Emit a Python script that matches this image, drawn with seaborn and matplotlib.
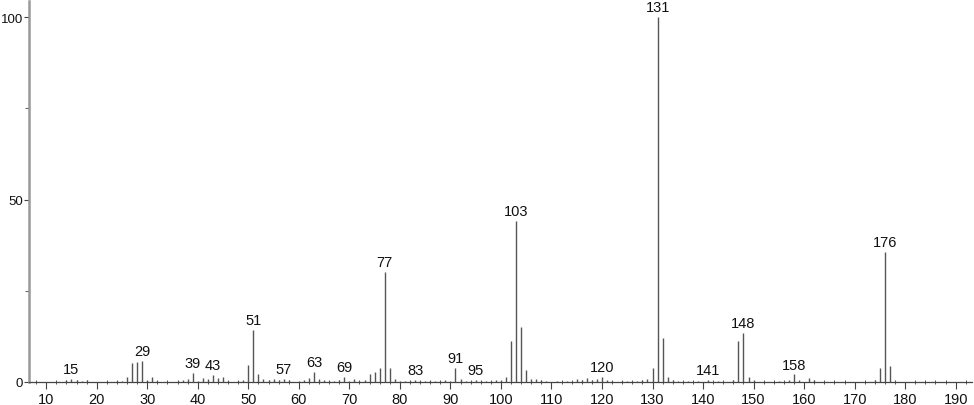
import numpy as np
import seaborn as sns
import matplotlib.pyplot as plt
from matplotlib.ticker import MultipleLocator

# ------------------------- spectrum data -------------------------
mz = [14, 15, 16, 17, 18, 24, 25, 26, 27, 28, 29, 30, 31, 32,
      36, 37, 38, 39, 40, 41, 42, 43, 44, 45, 46, 48, 49,
      50, 51, 52, 53, 54, 55, 56, 57, 58, 60, 61, 62, 63, 64, 65, 66, 67, 68, 69,
      70, 71, 72, 73, 74, 75, 76, 77, 78, 79, 80, 81, 82, 83, 84, 85, 86, 87, 88, 89,
      90, 91, 92, 93, 94, 95, 96, 97, 98, 99, 100, 101, 102, 103, 104, 105, 106, 107,
      108, 109, 111, 113, 115, 116, 117, 118, 119, 120, 121, 122, 124, 125, 126, 127,
      128, 129, 130, 131, 132, 133, 134, 135, 137, 139, 141, 143, 146, 147, 148, 149,
      150, 155, 157, 158, 159, 161, 162, 174, 175, 176, 177, 178]
intensity = [0.5, 0.9, 0.5, 0.4, 0.5, 0.2, 0.4, 1.4, 5.2, 5.5, 5.7, 0.5, 1.4, 0.3,
             0.3, 0.6, 0.7, 2.5, 0.4, 1.1, 0.7, 2.0, 1.2, 1.4, 0.4, 0.3, 0.5,
             4.7, 14.2, 2.3, 0.9, 0.5, 0.9, 0.5, 0.9, 0.5, 0.3, 0.5, 1.1, 2.7, 0.7, 0.5, 0.3, 0.3, 0.5, 1.4,
             0.3, 0.7, 0.3, 0.5, 2.1, 2.7, 3.8, 30.1, 3.8, 0.9, 0.3, 0.3, 0.4, 0.5, 0.3, 0.4, 0.4, 0.3, 0.4, 0.5,
             0.4, 3.8, 0.7, 0.4, 0.3, 0.5, 0.3, 0.4, 0.4, 0.5, 0.6, 1.4, 11.3, 44.2, 15.0, 3.3, 0.9, 0.9,
             0.5, 0.3, 0.3, 0.2, 0.9, 0.5, 1.1, 0.5, 0.7, 1.4, 0.5, 0.3, 0.2, 0.3, 0.3, 0.4,
             0.5, 0.9, 3.8, 100.0, 12.0, 1.4, 0.5, 0.3, 0.2, 0.2, 0.5, 0.3, 0.5, 11.2, 13.4, 1.4,
             0.5, 0.2, 0.5, 2.1, 0.5, 1.1, 0.5, 0.5, 3.8, 35.6, 4.4, 0.3]

# peaks that get a m/z label
labeled = [15, 29, 39, 43, 51, 57, 63, 69, 77, 83, 91, 95, 103, 120, 131, 141, 148, 158, 176]

x_ticks = list(range(10, 200, 10))
y_ticks = [0, 50, 100]

# ------------------------- plot -------------------------
sns.set_style('ticks')
plt.rcParams['font.family'] = ['Liberation Sans', 'DejaVu Sans']

fig = plt.figure(figsize=(9.74, 4.06), dpi=100)
ax = fig.add_axes([0.0298, 0.0567, 0.968, 0.938])

ax.vlines(mz, 0, intensity, colors='#555555', linewidth=1.0)

peaks = dict(zip(mz, intensity))
for m in labeled:
    ax.annotate(str(m), (m, peaks[m]), xytext=(0, 2), textcoords='offset points',
                ha='center', va='bottom', fontsize=10.5, color='#111111')

ax.set_xlim(6.6, 193.2)
ax.set_ylim(0, 104.4)
ax.set_xticks(x_ticks)
ax.set_yticks(y_ticks)
ax.xaxis.set_minor_locator(MultipleLocator(2))
ax.yaxis.set_minor_locator(MultipleLocator(25))

ax.tick_params(axis='x', which='major', length=5, width=0.8, color='#444444',
               labelsize=10.5, labelcolor='#111111', pad=2)
ax.tick_params(axis='y', which='major', length=3.5, width=0.8, color='#444444',
               labelsize=9.5, labelcolor='#111111', pad=1)
ax.tick_params(axis='x', which='minor', length=3, width=0.7, color='#555555', direction='inout')
ax.tick_params(axis='y', which='minor', length=3, width=0.8, color='#666666')

sns.despine(ax=ax)
ax.spines['left'].set_color('#999999')
ax.spines['left'].set_linewidth(1.8)
ax.spines['bottom'].set_color('#444444')
ax.spines['bottom'].set_linewidth(0.9)

fig.savefig('out.png', dpi=100)
